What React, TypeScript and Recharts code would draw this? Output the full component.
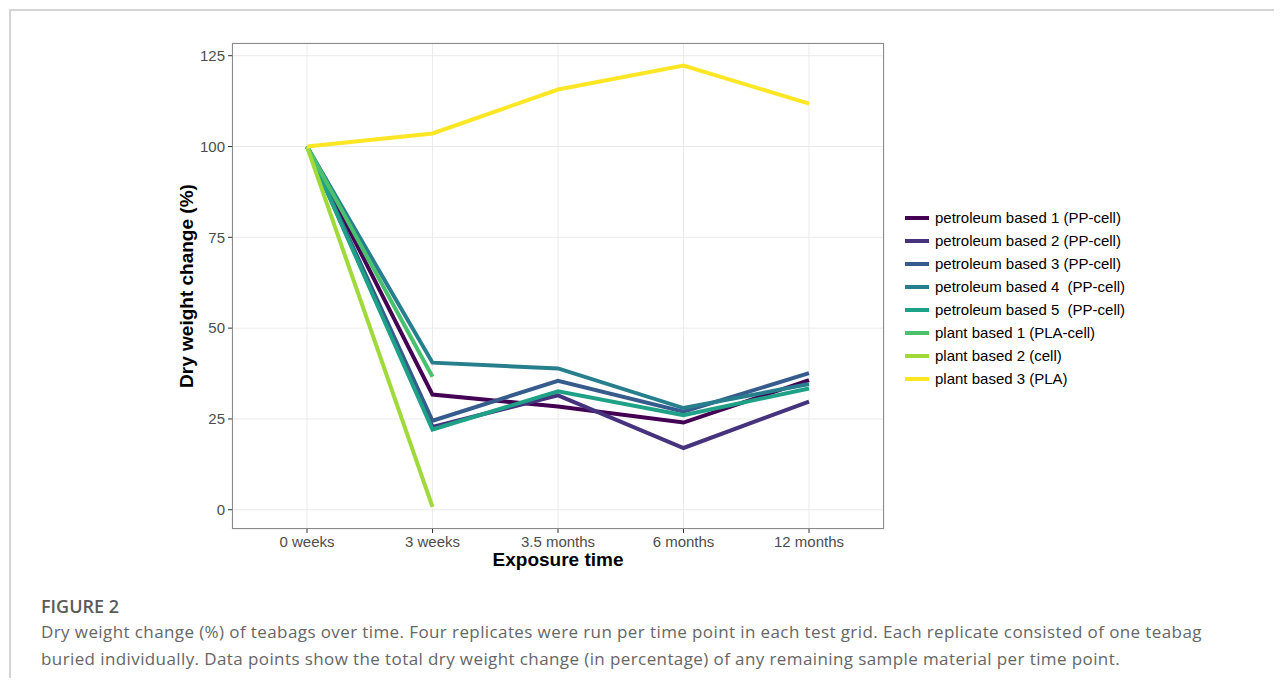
import { LineChart, Line, XAxis, YAxis, CartesianGrid, Legend } from "recharts";

const times = ["0 weeks", "3 weeks", "3.5 months", "6 months", "12 months"];
const yTicks = [0, 25, 50, 75, 100, 125];

const petroleum1 = [100, 31.7, 28.4, 24.0, 35.7];
const petroleum2 = [100, 22.8, 31.5, 17.0, 29.8];
const petroleum3 = [100, 24.5, 35.5, 27.0, 37.6];
const petroleum4 = [100, 40.5, 38.9, 28.0, 34.6];
const petroleum5 = [100, 22.1, 32.6, 26.0, 33.4];
const plant1 = [100, 36.6, null, null, null];
const plant2 = [100, 0.8, null, null, null];
const plant3 = [100, 103.6, 115.7, 122.3, 111.8];

const series = [
  { key: "p1", name: "petroleum based 1 (PP-cell)", values: petroleum1, color: "#440154" },
  { key: "p2", name: "petroleum based 2 (PP-cell)", values: petroleum2, color: "#46337E" },
  { key: "p3", name: "petroleum based 3 (PP-cell)", values: petroleum3, color: "#365C8D" },
  { key: "p4", name: "petroleum based 4  (PP-cell)", values: petroleum4, color: "#277F8E" },
  { key: "p5", name: "petroleum based 5  (PP-cell)", values: petroleum5, color: "#1FA187" },
  { key: "pl1", name: "plant based 1 (PLA-cell)", values: plant1, color: "#4AC16D" },
  { key: "pl2", name: "plant based 2 (cell)", values: plant2, color: "#9FDA3A" },
  { key: "pl3", name: "plant based 3 (PLA)", values: plant3, color: "#FDE725" },
];

const data = times.map((t, i) => {
  const row: Record<string, string | number | null> = { time: t };
  series.forEach((s) => {
    row[s.key] = s.values[i];
  });
  return row;
});

const axisFont = "Arial, 'Liberation Sans', sans-serif";
const captionFont = "'Open Sans', 'Noto Sans', sans-serif";

function LegendBox(props: any) {
  const items = props.payload || [];
  return (
    <div style={{ fontFamily: axisFont, fontSize: 15, color: "#000", textAlign: "left" }}>
      {items.map((it: any) => (
        <div
          key={it.value}
          style={{ display: "flex", alignItems: "center", height: 23, whiteSpace: "pre" }}
        >
          <span
            style={{
              display: "inline-block",
              width: 24,
              height: 4,
              background: it.color,
              marginRight: 6,
            }}
          />
          <span>{it.value}</span>
        </div>
      ))}
    </div>
  );
}

export default function App() {
  return (
    <div
      style={{
        position: "relative",
        width: 1282,
        height: 686,
        margin: -8,
        overflow: "hidden",
        background: "#fff",
      }}
    >
      <div
        style={{
          position: "absolute",
          left: 9,
          top: 9,
          width: 1300,
          height: 700,
          borderTop: "2px solid #d4d4d4",
          borderLeft: "2px solid #d4d4d4",
        }}
      />
      <div style={{ position: "absolute", left: 0, top: 0 }}>
        <LineChart
          width={1282}
          height={686}
          data={data}
          margin={{ top: 43, right: 398, bottom: 117, left: 172 }}
        >
          <CartesianGrid stroke="#EBEBEB" strokeWidth={1} />
          <XAxis
            dataKey="time"
            padding={{ left: 75, right: 75 }}
            height={40}
            tickSize={4}
            tickMargin={3}
            axisLine={false}
            tickLine={{ stroke: "#333" }}
            tick={{ fontFamily: axisFont, fontSize: 15, fill: "#4D4D4D" }}
            interval={0}
          />
          <YAxis
            domain={[-5.3, 128.5]}
            ticks={yTicks}
            width={60}
            tickSize={4}
            tickMargin={3}
            axisLine={false}
            tickLine={{ stroke: "#333" }}
            tick={{ fontFamily: axisFont, fontSize: 15, fill: "#4D4D4D" }}
            allowDataOverflow
          />
          <Legend
            layout="vertical"
            verticalAlign="middle"
            align="center"
            content={<LegendBox />}
            wrapperStyle={{ left: 905, top: 206, width: 280 }}
          />
          {series.map((s) => (
            <Line
              key={s.key}
              dataKey={s.key}
              name={s.name}
              stroke={s.color}
              strokeWidth={4}
              type="linear"
              dot={false}
              activeDot={false}
              connectNulls={false}
              isAnimationActive={false}
            />
          ))}
        </LineChart>
      </div>
      <div
        style={{
          position: "absolute",
          left: 232,
          top: 43,
          width: 652,
          height: 486,
          boxSizing: "border-box",
          border: "1px solid #8a8a8a",
          pointerEvents: "none",
        }}
      />
      <div
        style={{
          position: "absolute",
          left: 187,
          top: 286,
          transform: "translate(-50%, -50%) rotate(-90deg)",
          fontFamily: axisFont,
          fontSize: 19,
          fontWeight: "bold",
          whiteSpace: "nowrap",
          color: "#000",
        }}
      >
        Dry weight change (%)
      </div>
      <div
        style={{
          position: "absolute",
          left: 558,
          top: 560,
          transform: "translate(-50%, -50%)",
          fontFamily: axisFont,
          fontSize: 19,
          fontWeight: "bold",
          whiteSpace: "nowrap",
          color: "#000",
        }}
      >
        Exposure time
      </div>
      <div
        style={{
          position: "absolute",
          left: 41,
          top: 593,
          fontFamily: captionFont,
          fontSize: 18,
          lineHeight: "26px",
          fontWeight: 600,
          color: "#5a5a5a",
        }}
      >
        FIGURE 2
      </div>
      <div
        style={{
          position: "absolute",
          left: 41,
          top: 618,
          width: 1200,
          fontFamily: captionFont,
          fontSize: 17,
          letterSpacing: 0.4,
          lineHeight: "27px",
          color: "#666",
        }}
      >
        Dry weight change (%) of teabags over time. Four replicates were run per time point in each test grid. Each replicate consisted of one teabag buried individually. Data points show the total dry weight change (in percentage) of any remaining sample material per time point.
      </div>
    </div>
  );
}
